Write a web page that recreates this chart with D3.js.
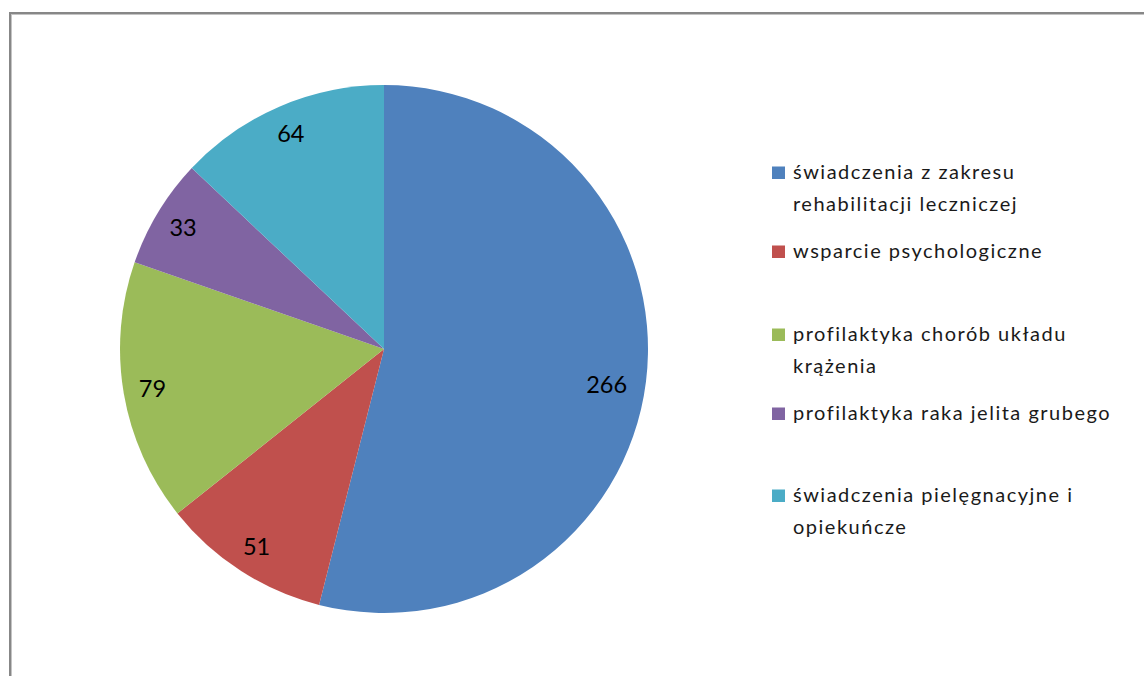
<!DOCTYPE html>
<html><head><meta charset="utf-8">
<script src="https://cdn.jsdelivr.net/npm/d3@7"></script>
<style>body{margin:0;background:#fff}svg{display:block}</style>
</head><body>
<svg id="c" width="1144" height="676"></svg>
<script>
const categories = ["świadczenia z zakresu rehabilitacji leczniczej","wsparcie psychologiczne","profilaktyka chorób układu krążenia","profilaktyka raka jelita grubego","świadczenia pielęgnacyjne i opiekuńcze"];
const legendLines = [["świadczenia z zakresu","rehabilitacji leczniczej"],["wsparcie psychologiczne"],["profilaktyka chorób układu","krążenia"],["profilaktyka raka jelita grubego"],["świadczenia pielęgnacyjne i","opiekuńcze"]];
const values = [266,51,79,33,64];
const colors = ["#4F81BD","#C0504D","#9BBB59","#8064A2","#4BACC6"];

const svg = d3.select("#c");
const font = "Lato, 'Open Sans', sans-serif";
// border
svg.append("line").attr("x1",9).attr("y1",13).attr("x2",1144).attr("y2",13).attr("stroke","#878787").attr("stroke-width",2);
svg.append("line").attr("x1",11).attr("y1",14.5).attr("x2",1144).attr("y2",14.5).attr("stroke","#c4c4c4").attr("stroke-width",1);
svg.append("line").attr("x1",10).attr("y1",12).attr("x2",10).attr("y2",676).attr("stroke","#878787").attr("stroke-width",2);
svg.append("line").attr("x1",11.5).attr("y1",14).attr("x2",11.5).attr("y2",676).attr("stroke","#c4c4c4").attr("stroke-width",1);

const cx=384, cy=349, R=264;
const pie = d3.pie().sort(null).value(d=>d);
const arcs = pie(values);
const arc = d3.arc().innerRadius(0).outerRadius(R);
const g = svg.append("g").attr("transform",`translate(${cx},${cy})`);
g.selectAll("path").data(arcs).join("path").attr("d",arc).attr("fill",(d,i)=>colors[i]);
const labelArc = d3.arc().innerRadius(R*0.89).outerRadius(R*0.89);
const bigArc = d3.arc().innerRadius(R*0.85).outerRadius(R*0.85);
g.selectAll("text").data(arcs).join("text")
  .attr("transform",d=>{
    const big = (d.endAngle-d.startAngle) > Math.PI;
    let [x,y] = (big?bigArc:labelArc).centroid(d);
    return `translate(${x},${y + (big?8:0)})`;
  })
  .attr("text-anchor","middle").attr("dy","0.36em")
  .attr("font-family",font).attr("font-size",23.5).attr("fill","#000")
  .text(d=>d.data);

const rowBase = [179,258,341,420,502];
const lg = svg.append("g");
legendLines.forEach((lines,i)=>{
  lg.append("rect").attr("x",772).attr("y",rowBase[i]-12.5).attr("width",13).attr("height",12.5).attr("fill",colors[i]);
  lines.forEach((t,j)=>{
    lg.append("text").attr("x",793).attr("y",rowBase[i]+j*32)
      .attr("font-family",font).attr("font-size",20).attr("letter-spacing",1.5).attr("fill","#1a1a1a").text(t);
  });
});
</script>
</body></html>
